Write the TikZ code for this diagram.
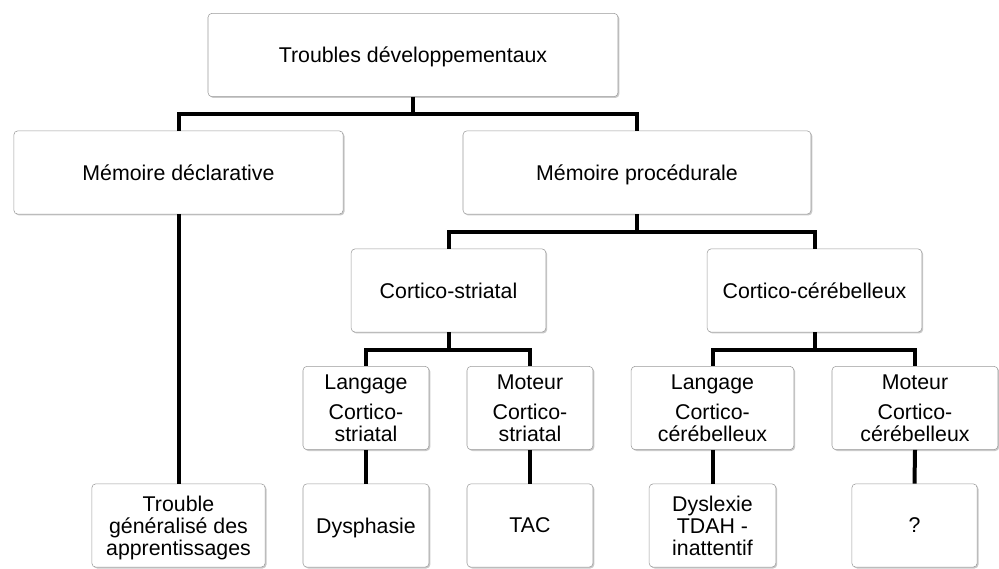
\documentclass[tikz,border=0pt]{standalone}
\usepackage{fontspec}
\setmainfont{Liberation Sans}
\usetikzlibrary{shadows}
\tikzset{
  boite/.style={draw=black!40, fill=white, rounded corners=3pt, align=center,
    inner sep=0pt, minimum height=62.5pt, text depth=0pt,
    drop shadow={shadow xshift=1pt, shadow yshift=-1pt, opacity=.35, fill=black!60},
    font=\fontsize{16}{16.5}\selectfont},
  lien/.style={line width=3pt}
}
\begin{document}
\begin{tikzpicture}[x=0.75pt,y=0.75pt]
\useasboundingbox (0,0) rectangle (999,568);
\node[boite, minimum width=307.5pt](troubles) at (413,513){Troubles développementaux};
\node[boite, minimum width=247pt](declarative) at (178.5,395.5){Mémoire déclarative};
\node[boite, minimum width=261pt](procedurale) at (637,395.5){Mémoire procédurale};
\node[boite, minimum width=146pt](striatal) at (448.5,277.5){Cortico-striatal};
\node[boite, minimum width=161pt](cerebelleux) at (814.5,277.5){Cortico-cérébelleux};
\node[boite, minimum width=94.5pt](langage-str) at (366,160){Langage\\[6pt]Cortico-\\striatal};
\node[boite, minimum width=94.5pt](moteur-str) at (530,160){Moteur\\[6pt]Cortico-\\striatal};
\node[boite, minimum width=122pt](langage-cer) at (712.5,160){Langage\\[6pt]Cortico-\\cérébelleux};
\node[boite, minimum width=124.5pt](moteur-cer) at (915,160){Moteur\\[6pt]Cortico-\\cérébelleux};
\node[boite, minimum width=130pt](trouble-gen) at (178.5,42.5){Trouble\\généralisé des\\apprentissages};
\node[boite, minimum width=94.5pt](dysphasie) at (366,42.5){Dysphasie};
\node[boite, minimum width=94.5pt](tac) at (530,42.5){TAC};
\node[boite, minimum width=95pt](dyslexie) at (712.5,42.5){Dyslexie\\TDAH -\\inattentif};
\node[boite, minimum width=94pt](inconnu) at (914.5,42.5){?};
\draw[lien] (troubles.south) -- ++(0,-17) -| (declarative.north);
\draw[lien] (troubles.south) -- ++(0,-17) -| (procedurale.north);
\draw[lien] (declarative.south) -- (trouble-gen.north);
\draw[lien] (procedurale.south) -- ++(0,-18) -| (striatal.north);
\draw[lien] (procedurale.south) -- ++(0,-18) -| (cerebelleux.north);
\draw[lien] (striatal.south) -- ++(0,-18) -| (langage-str.north);
\draw[lien] (striatal.south) -- ++(0,-18) -| (moteur-str.north);
\draw[lien] (cerebelleux.south) -- ++(0,-18) -| (langage-cer.north);
\draw[lien] (cerebelleux.south) -- ++(0,-18) -| (moteur-cer.north);
\draw[lien] (langage-str.south) -- (dysphasie.north);
\draw[lien] (moteur-str.south) -- (tac.north);
\draw[lien] (langage-cer.south) -- (dyslexie.north);
\draw[lien] (moteur-cer.south) -- (inconnu.north);
\end{tikzpicture}
\end{document}
